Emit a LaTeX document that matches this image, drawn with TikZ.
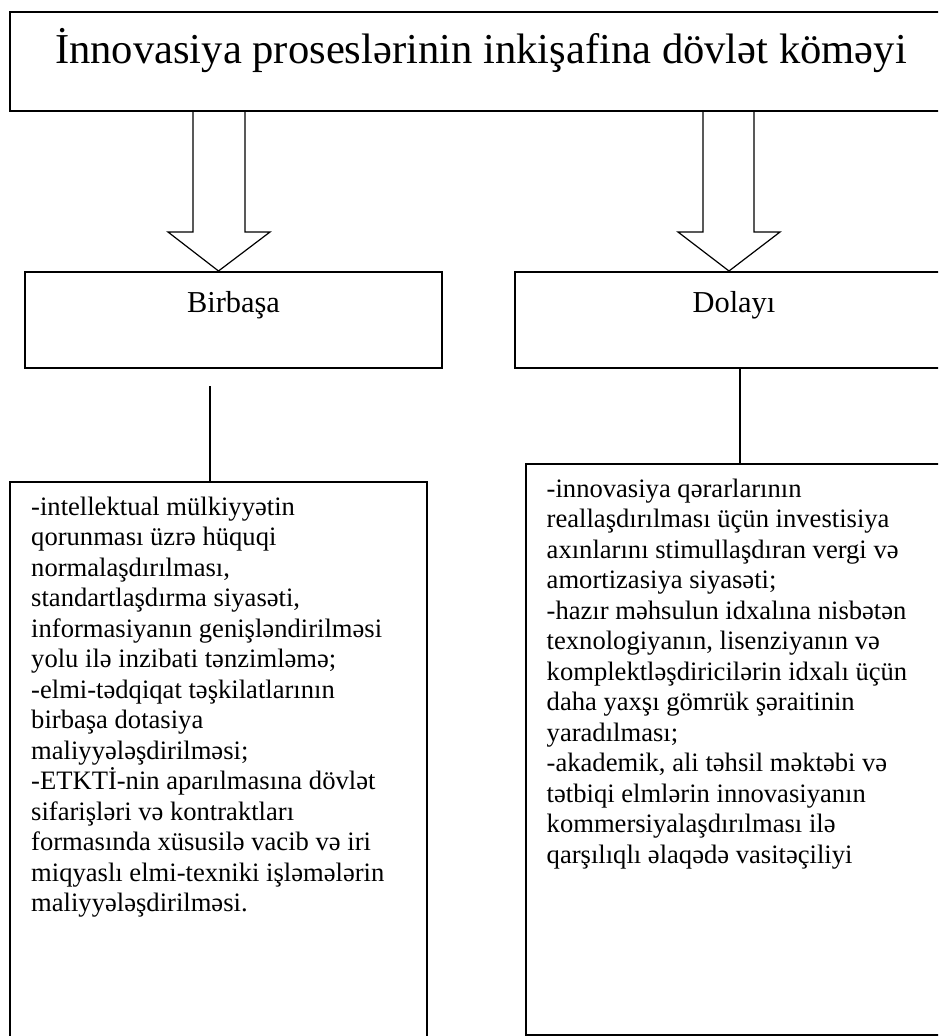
\documentclass[tikz,border=0pt]{standalone}
\usepackage{fontspec}
\setmainfont{Liberation Serif}
\tikzset{
  boxline/.style={draw=black, line width=1.7pt},
  arrline/.style={draw=black, line width=1.2pt, line join=miter},
  conn/.style={draw=black, line width=1.6pt},
  bodytext/.style={anchor=base west, inner sep=0pt, font=\fontsize{26.6}{30.5}\selectfont},
}
\newcommand{\mylines}[1]{\vtop{\hsize=420pt\parindent=0pt\raggedright #1}}
\begin{document}
\begin{tikzpicture}[x=1pt,y=-1pt]
\useasboundingbox (0,0) rectangle (938,1036);
\clip (0,0) rectangle (938,1036);
% top box
\coordinate (topNW) at (10,12);
\coordinate (topSE) at (952,111);
\draw[boxline] (topNW) rectangle (topSE);
\node[anchor=base, inner sep=0pt, font=\fontsize{42.6}{48}\selectfont] (title) at (481,63) {İnnovasiya proseslərinin inkişafina dövlət köməyi};
% block arrows
\draw[arrline] (193,111) -- (193,232) -- (168,232) -- (218.5,271) -- (270,232) -- (245,232) -- (245,111);
\draw[arrline] (703,111) -- (703,232) -- (678,232) -- (729,271) -- (780,232) -- (754,232) -- (754,111);
% second row boxes
\coordinate (bNW) at (25,272);
\coordinate (bSE) at (442,368);
\draw[boxline] (bNW) rectangle (bSE);
\node[anchor=base, inner sep=0pt, font=\fontsize{30.4}{35}\selectfont] (birbasa) at (233.5,312) {Birbaşa};
\coordinate (dNW) at (515,272);
\coordinate (dSE) at (952,368);
\draw[boxline] (dNW) rectangle (dSE);
\node[anchor=base, inner sep=0pt, font=\fontsize{30.4}{35}\selectfont] (dolayi) at (734,312) {Dolayı};
% connectors
\coordinate (lTop) at (210,386);
\coordinate (lBot) at (210,482);
\draw[conn] (lTop) -- (lBot);
\coordinate (rTop) at (740,368);
\coordinate (rBot) at (740,464);
\draw[conn] (rTop) -- (rBot);
% lower boxes
\draw[boxline] (10,482) rectangle (427,1050);
\draw[boxline] (526,464) rectangle (952,1035);
\node[bodytext] (ltext) at (31,515) {\mylines{-intellektual mülkiyyətin\\
qorunması üzrə hüquqi\\
normalaşdırılması,\\
standartlaşdırma siyasəti,\\
informasiyanın genişləndirilməsi\\
yolu ilə inzibati tənzimləmə;\\
-elmi-tədqiqat təşkilatlarının\\
birbaşa dotasiya\\
maliyyələşdirilməsi;\\
-ETKTİ-nin aparılmasına dövlət\\
sifarişləri və kontraktları\\
formasında xüsusilə vacib və iri\\
miqyaslı elmi-texniki işləmələrin\\
maliyyələşdirilməsi.}};
\node[bodytext] (rtext) at (546.5,497) {\mylines{-innovasiya qərarlarının\\
reallaşdırılması üçün investisiya\\
axınlarını stimullaşdıran vergi və\\
amortizasiya siyasəti;\\
-hazır məhsulun idxalına nisbətən\\
texnologiyanın, lisenziyanın və\\
komplektləşdiricilərin idxalı üçün\\
daha yaxşı gömrük şəraitinin\\
yaradılması;\\
-akademik, ali təhsil məktəbi və\\
tətbiqi elmlərin innovasiyanın\\
kommersiyalaşdırılması ilə\\
qarşılıqlı əlaqədə vasitəçiliyi}};
\end{tikzpicture}
\end{document}
